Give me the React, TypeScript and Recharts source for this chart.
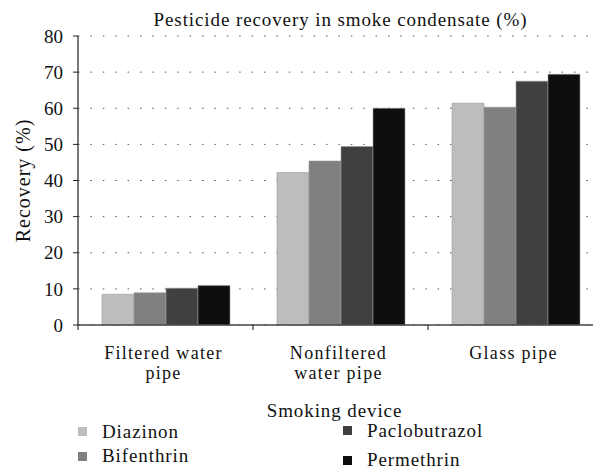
import React from "react";
import { BarChart, Bar, XAxis, YAxis, CartesianGrid, Legend, Label } from "recharts";

const devices = ["Filtered water pipe", "Nonfiltered water pipe", "Glass pipe"];
const deviceLines = [["Filtered water", "pipe"], ["Nonfiltered", "water pipe"], ["Glass pipe"]];
const diazinon = [8.5, 42.2, 61.4];
const bifenthrin = [8.9, 45.4, 60.3];
const paclobutrazol = [10.2, 49.4, 67.5];
const permethrin = [10.9, 60.0, 69.4];
const yTicks = [0, 10, 20, 30, 40, 50, 60, 70, 80];

const series = [
  { key: "diazinon", name: "Diazinon", color: "#bdbdbd" },
  { key: "bifenthrin", name: "Bifenthrin", color: "#808080" },
  { key: "paclobutrazol", name: "Paclobutrazol", color: "#404040" },
  { key: "permethrin", name: "Permethrin", color: "#0e0e0e" },
];

const data = devices.map((d, i) => ({
  device: d,
  diazinon: diazinon[i],
  bifenthrin: bifenthrin[i],
  paclobutrazol: paclobutrazol[i],
  permethrin: permethrin[i],
}));

const FONT = "Liberation Serif, DejaVu Serif, serif";
const txt = { fontFamily: FONT, fontSize: 19, letterSpacing: 0.9 };
const tickTxt = { fontFamily: FONT, fontSize: 18, letterSpacing: 1.3 };
const BAND = 175; // plot width / 3

function DeviceTick(props: any) {
  const { x, y, payload } = props;
  const lines = deviceLines[payload.index] || [payload.value];
  return (
    <g>
      <line x1={x - BAND / 2} x2={x - BAND / 2} y1={y} y2={y + 5} stroke="#333" strokeWidth={1.2} />
      {lines.map((l: string, i: number) => (
        <text key={i} x={x - 2} y={y + 34 + i * 20} textAnchor="middle" style={tickTxt} fill="#111">
          {l}
        </text>
      ))}
    </g>
  );
}

// legend item positions, in series order
const legendPos = [
  { left: 78, cy: 431.5 },
  { left: 78, cy: 456 },
  { left: 343, cy: 430.5 },
  { left: 343, cy: 460 },
];

function LegendBox() {
  return (
    <div style={{ position: "relative", width: 593, height: 470 }}>
      {series.map((s, i) => (
        <div
          key={s.key}
          style={{
            position: "absolute",
            left: legendPos[i].left,
            top: legendPos[i].cy - 9,
            height: 18,
            lineHeight: "18px",
            display: "flex",
            alignItems: "center",
            ...txt,
            color: "#111",
            whiteSpace: "nowrap",
          }}
        >
          <span style={{ display: "inline-block", width: 9, height: 9, background: s.color, marginRight: 15 }} />
          <span>{s.name}</span>
        </div>
      ))}
    </div>
  );
}

export default function App() {
  return (
    <div style={{ position: "absolute", left: 0, top: 0, width: 593, height: 470, overflow: "hidden", background: "#fff" }}>
      <div
        style={{
          position: "absolute",
          left: 78,
          width: 525,
          top: 10,
          textAlign: "center",
          ...txt,
          lineHeight: "19px",
          color: "#111",
          zIndex: 2,
        }}
      >
        Pesticide recovery in smoke condensate (%)
      </div>
      <BarChart
        width={620}
        height={470}
        data={data}
        margin={{ top: 36, right: 17, left: 0, bottom: 0 }}
        barCategoryGap={24}
        barGap={0}
      >
        <CartesianGrid vertical={false} stroke="#555" strokeDasharray="1.5 10.9" />
        <XAxis
          dataKey="device"
          height={145}
          tick={<DeviceTick />}
          tickLine={false}
          tickSize={0}
          tickMargin={0}
          interval={0}
          axisLine={{ stroke: "#444", strokeWidth: 1.6 }}
        >
          <Label
            content={(p: any) => {
              const vb = p.viewBox;
              return (
                <text x={vb.x + vb.width / 2 - 6} y={vb.y + 92} textAnchor="middle" style={txt} fill="#111">
                  Smoking device
                </text>
              );
            }}
          />
        </XAxis>
        <YAxis
          width={78}
          domain={[0, 80]}
          ticks={yTicks}
          interval={0}
          tickSize={5}
          tickMargin={10}
          tick={{ style: { fontFamily: FONT, fontSize: 19 }, fill: "#111" }}
          tickLine={{ stroke: "#222" }}
          axisLine={{ stroke: "#222", strokeWidth: 1.2 }}
        >
          <Label
            content={(p: any) => {
              const vb = p.viewBox;
              const cx = 23;
              const cy = vb.y + vb.height / 2;
              return (
                <text
                  x={cx}
                  y={cy}
                  transform={`rotate(-90 ${cx} ${cy})`}
                  textAnchor="middle"
                  dominantBaseline="central"
                  style={{ fontFamily: FONT, fontSize: 20, letterSpacing: 1 }}
                  fill="#111"
                >
                  Recovery (%)
                </text>
              );
            }}
          />
        </YAxis>
        <Legend
          layout="horizontal"
          verticalAlign="middle"
          align="center"
          content={<LegendBox />}
          wrapperStyle={{ top: 0, left: 0, width: 593, height: 470, pointerEvents: "none" }}
        />
        {series.map((s) => (
          <Bar
            key={s.key}
            dataKey={s.key}
            name={s.name}
            fill={s.color}
            stroke="#9a9a9a"
            strokeWidth={0.6}
            isAnimationActive={false}
          />
        ))}
      </BarChart>
    </div>
  );
}
